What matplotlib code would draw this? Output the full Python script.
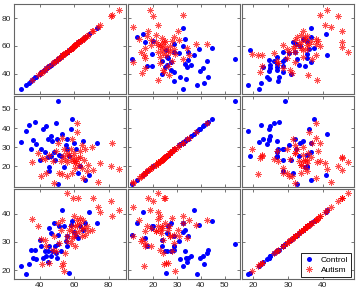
import numpy as np
import matplotlib
matplotlib.use('Agg')
import matplotlib.pyplot as plt

plt.rcParams['font.family'] = ['Liberation Sans', 'DejaVu Sans']

# control group: three measures per subject
control_v1 = [28.8, 32.1, 33.5, 34.8, 36.3, 37.2, 37.8, 40.0, 40.9, 41.9, 42.8, 43.7, 44.7, 44.7, 45.2,
              45.6, 46.2, 46.5, 47.1, 48.4, 48.8, 49.3, 49.9, 50.3, 50.8, 51.2, 52.1, 53.1, 54.0, 55.0,
              55.5, 55.9, 56.8, 57.8, 58.7, 59.6, 61.1, 62.4, 63.4, 65.2, 66.2, 68.6, 73.1]
control_v2 = [32.6, 38.4, 41.4, 28.8, 33.7, 43.2, 31.4, 23.5, 28.8, 39.6, 27.4, 41.1, 34.0, 24.9, 19.6,
              17.4, 35.8, 25.6, 33.2, 27.4, 23.5, 42.8, 34.4, 54.2, 10.9, 26.1, 25.6, 37.0, 19.6, 30.9,
              28.8, 34.4, 25.5, 39.3, 44.6, 32.3, 28.8, 16.5, 20.0, 33.2, 13.0, 15.6, 32.3]
control_v3 = [21.6, 18.5, 22.2, 27.1, 24.4, 27.3, 24.0, 30.8, 28.5, 24.4, 26.7, 24.9, 22.8, 26.7, 34.9,
              28.5, 24.9, 33.2, 26.7, 36.7, 28.5, 26.1, 24.4, 29.1, 32.6, 35.5, 26.7, 41.2, 35.5, 30.2,
              28.5, 32.0, 19.1, 36.1, 37.3, 33.4, 32.2, 31.4, 35.5, 34.4, 36.7, 40.8, 36.7]

# autism group
autism_v1 = [35.3, 39.1, 40.6, 41.3, 42.8, 43.7, 45.6, 47.5, 48.4, 49.3, 50.3, 51.2, 52.1, 53.1, 53.1,
             53.6, 54.0, 54.6, 55.5, 55.9, 55.9, 56.8, 57.8, 57.8, 58.7, 58.7, 59.3, 59.6, 60.0, 60.6,
             60.6, 61.0, 61.5, 61.5, 62.4, 63.0, 63.4, 63.4, 64.3, 64.3, 65.2, 65.6, 66.2, 67.1, 68.0,
             70.5, 70.8, 73.6, 75.0, 81.1, 82.1, 85.8]
autism_v2 = [22.1, 26.7, 15.1, 24.4, 23.9, 16.5, 26.1, 22.6, 11.2, 27.9, 32.3, 16.5, 22.6, 34.9, 16.0,
             25.3, 29.0, 24.0, 27.0, 22.0, 14.7, 26.0, 23.5, 28.8, 34.0, 16.5, 25.0, 22.6, 27.0, 19.0,
             21.8, 23.0, 42.8, 37.9, 24.4, 20.9, 27.9, 25.0, 30.9, 19.1, 13.9, 23.5, 28.8, 17.4, 20.9,
             30.2, 17.9, 11.6, 21.8, 20.0, 32.3, 18.6]
autism_v3 = [38.2, 35.8, 31.1, 22.0, 30.6, 28.5, 22.6, 27.1, 32.0, 26.7, 36.9, 29.6, 34.4, 37.9, 21.4,
             22.4, 19.6, 26.1, 32.0, 47.3, 30.2, 34.4, 35.5, 29.6, 31.4, 33.8, 45.5, 39.1, 32.0, 28.5,
             35.5, 33.2, 37.9, 36.1, 45.5, 33.8, 38.5, 36.7, 32.0, 34.9, 37.9, 34.9, 32.6, 35.5, 33.8,
             34.4, 45.5, 42.4, 40.5, 44.4, 39.3, 41.2]

var_limits = [(25, 90), (9.3, 56.5), (16.8, 48.9)]
var_ticks = [[40, 60, 80], [20, 30, 40, 50], [20, 30, 40]]

control = [control_v1, control_v2, control_v3]
autism = [autism_v1, autism_v2, autism_v3]

fig, axes = plt.subplots(3, 3, figsize=(3.59, 2.95), dpi=100)
plt.subplots_adjust(left=0.039, right=0.986, top=0.986, bottom=0.054, wspace=0.018, hspace=0.022)

for i in range(3):
    for j in range(3):
        ax = axes[i, j]
        ax.plot(control[j], control[i], linestyle='none', marker='o', markersize=3.6,
                color='#0000ff', markeredgewidth=0, label='Control')
        ax.plot(autism[j], autism[i], linestyle='none', marker=(8, 2, 0), markersize=4.6,
                markeredgecolor='#ff0000', markerfacecolor='none', markeredgewidth=0.5,
                alpha=0.7, label='Autism')
        ax.set_xlim(var_limits[j])
        ax.set_ylim(var_limits[i])
        ax.set_xticks(var_ticks[j])
        ax.set_yticks(var_ticks[i])
        ax.tick_params(direction='in', top=True, right=True, length=2, width=0.5,
                       labelsize=6, pad=2, colors='0.25', labelcolor='0.15')
        if j != 0:
            ax.set_yticklabels([])
        if i != 2:
            ax.set_xticklabels([])
        for s in ax.spines.values():
            s.set_color('0.4')
            s.set_linewidth(0.8)

leg = axes[2, 2].legend(loc='lower right', fontsize=6, fancybox=False, framealpha=1,
                        edgecolor='black', handlelength=1.2, borderpad=0.35,
                        labelspacing=0.2, handletextpad=0.8, borderaxespad=0.3)
leg.get_frame().set_linewidth(0.6)

plt.savefig('out.png', dpi=100)
